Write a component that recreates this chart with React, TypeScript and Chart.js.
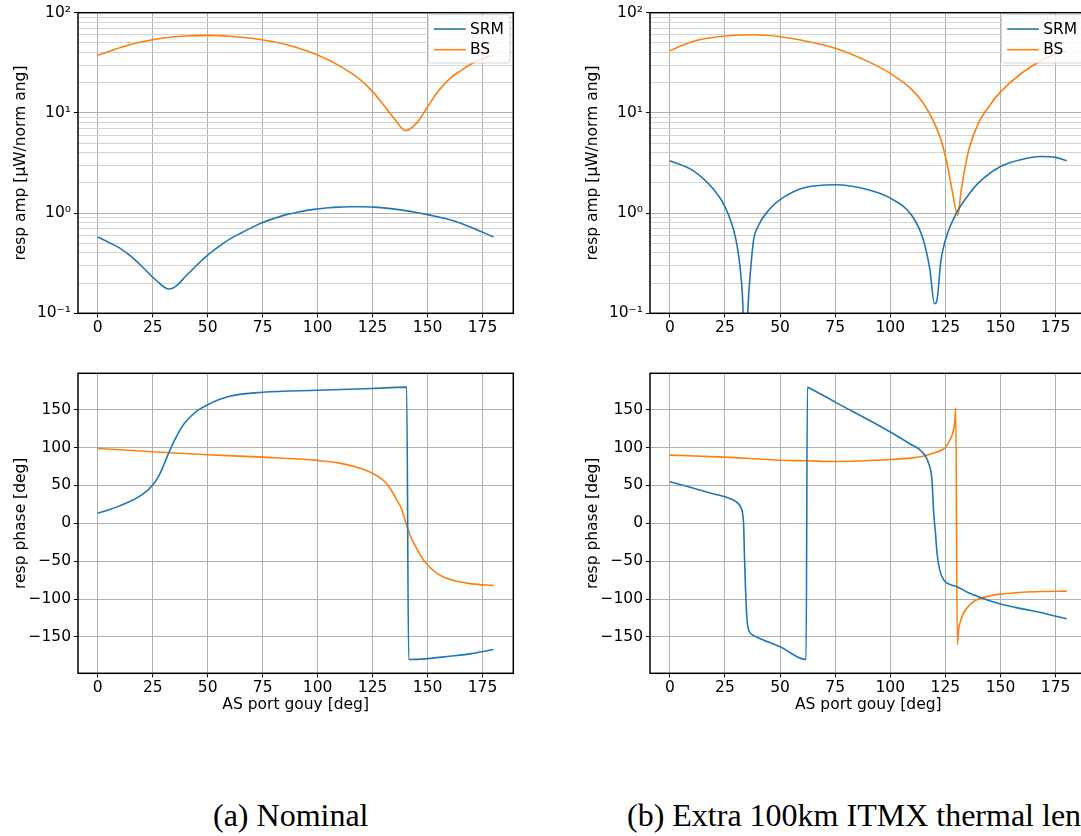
import React, { useEffect, useRef } from 'react';
import { Chart, registerables } from 'chart.js';

Chart.register(...registerables);

// ---------- tick labels / texts ----------
const gouyTicks = [0, 25, 50, 75, 100, 125, 150, 175];
const ampTicks = [
  0.1, 0.2, 0.3, 0.4, 0.5, 0.6, 0.7, 0.8, 0.9,
  1, 2, 3, 4, 5, 6, 7, 8, 9,
  10, 20, 30, 40, 50, 60, 70, 80, 90, 100,
];
const ampTickLabels: Record<string, string> = { '0.1': '10⁻¹', '1': '10⁰', '10': '10¹', '100': '10²' };
const phaseTicks = [-150, -100, -50, 0, 50, 100, 150];
const seriesNames = ['SRM', 'BS'];
const captions = ['(a) Nominal', '(b) Extra 100km ITMX thermal lens'];
const ampTitle = 'resp amp [μW/norm ang]';
const phaseTitle = 'resp phase [deg]';
const gouyTitle = 'AS port gouy [deg]';

// ---------- (a) Nominal : amplitude ----------
const nomAmpSrmX = [0, 5, 10, 15, 20, 25, 28, 30, 32, 34, 36, 40, 45, 50, 55, 60, 65, 70, 75, 80, 85, 90, 95, 100, 105, 110, 115, 120, 125, 130, 135, 140, 145, 150, 155, 160, 165, 170, 175, 180];
const nomAmpSrmY = [0.577, 0.51, 0.447, 0.372, 0.295, 0.229, 0.2, 0.184, 0.175, 0.178, 0.19, 0.234, 0.302, 0.38, 0.462, 0.55, 0.63, 0.716, 0.804, 0.881, 0.955, 1.01, 1.064, 1.1, 1.13, 1.148, 1.159, 1.159, 1.148, 1.127, 1.096, 1.059, 1.014, 0.966, 0.912, 0.859, 0.794, 0.72, 0.646, 0.577];
const nomAmpBsX = [0, 10, 20, 30, 40, 50, 60, 70, 80, 90, 100, 110, 120, 125, 130, 135, 140, 145, 150, 155, 160, 165, 170, 175, 180];
const nomAmpBsY = [37.6, 44.8, 51.3, 56, 58.6, 59.4, 58.2, 55.6, 51.3, 45.2, 37.8, 29.5, 20.9, 16.3, 12.0, 8.7, 6.67, 7.9, 11.5, 16.6, 21.9, 26.3, 30.9, 34.7, 37.6];

// ---------- (a) Nominal : phase ----------
const nomPhSrmX = [0, 10, 20, 25, 28, 30, 32, 35, 38, 40, 45, 50, 60, 75, 100, 125, 140.5, 141.4, 150, 160, 170, 180];
const nomPhSrmY = [13.2, 23, 37.5, 50.7, 64, 77, 91, 110, 126, 134, 148, 156.6, 167.6, 173, 175.6, 178, 179.8, -179.8, -178.6, -175.5, -172, -166.7];
const nomPhBsX = [0, 25, 50, 75, 100, 110, 120, 125, 130, 133, 136, 138, 140, 142, 145, 148, 150, 155, 160, 170, 180];
const nomPhBsY = [98.8, 94.4, 90.4, 87.3, 83, 79.4, 72, 66, 56.5, 46, 31, 20, 2, -15.4, -33, -47.6, -55, -67.5, -74, -80, -82];

// ---------- (b) Extra thermal lens : amplitude ----------
const extAmpSrmX = [0, 10, 20, 25, 30, 32, 33, 34.3, 35.5, 36.5, 38, 40, 45, 50, 60, 75, 90, 100, 110, 115, 118, 120, 121, 123, 125, 130, 135, 140, 150, 160, 168, 175, 180];
const extAmpSrmY = [3.33, 2.7, 1.71, 1.16, 0.54, 0.27, 0.14, 0.02, 0.12, 0.25, 0.54, 0.74, 1.08, 1.36, 1.77, 1.92, 1.71, 1.41, 0.93, 0.54, 0.27, 0.125, 0.13, 0.34, 0.54, 1.0, 1.47, 2.0, 2.92, 3.45, 3.67, 3.6, 3.33];
const extAmpBsX = [0, 10, 25, 38, 50, 60, 75, 90, 100, 110, 115, 120, 123, 126, 128, 130.6, 132, 134, 136, 140, 145, 150, 160, 170, 180];
const extAmpBsY = [41.8, 51.4, 58.5, 60.3, 57.6, 53, 44.2, 32.5, 24.8, 16.9, 12.5, 7.9, 5.4, 2.92, 1.71, 0.95, 1.58, 2.92, 4.6, 7.9, 11.8, 16.2, 25.3, 34.5, 41.8];

// ---------- (b) Extra thermal lens : phase ----------
const extPhSrmX = [0, 10, 20, 25, 30, 32, 33, 33.5, 33.9, 34.4, 35, 36, 38, 40, 50, 61.8, 62.4, 63, 75, 100, 110, 113.6, 117.4, 118.9, 119.7, 120.5, 121.2, 122.4, 124.2, 127.3, 130, 135, 140, 150, 160, 170, 180];
const extPhSrmY = [54.8, 47, 38.6, 35, 28.5, 22, 13, -4, -48, -92, -127, -142.5, -148, -151, -163, -179.8, 179.8, 179, 160, 120.6, 103, 96.5, 79, 57, 13, -13, -39.5, -61.4, -74.6, -81, -83.3, -91, -97, -106.6, -113, -119, -126];
const extPhBsX = [0, 25, 50, 62, 75, 100, 110, 115, 120, 125, 127, 128.5, 129.2, 129.7, 130.4, 131, 132, 133, 135, 137, 140, 145, 150, 160, 170, 180];
const extPhBsY = [90, 87.3, 83.3, 82.5, 81.6, 84.2, 86.4, 88.6, 93, 100, 109.6, 120.6, 133, 152.6, -160, -140, -128, -120, -111, -105, -100, -96, -93.5, -91, -90, -89.5];

// ---------- styling ----------
const BLUE = '#1f77b4';
const ORANGE = '#ff7f0e';
const FONT = 'DejaVu Sans';
const FS = 15.5;

const isPow10 = (v: number) => Math.abs(Math.log10(v) - Math.round(Math.log10(v))) < 1e-9;

type PanelSpec = {
  kind: 'amp' | 'phase';
  srmX: number[]; srmY: number[]; bsX: number[]; bsY: number[];
  padTop: number; padRight: number; yWidth: number; xHeight: number;
  xTitle: boolean; legend: boolean;
};

function toPts(xs: number[], ys: number[]) {
  return xs.map((x, i) => ({ x, y: ys[i] }));
}

function makeConfig(p: PanelSpec): any {
  const framePlugin = {
    id: 'frameAndLegend',
    afterDatasetsDraw(chart: any) {
      const { ctx, chartArea: a } = chart;
      ctx.save();
      ctx.strokeStyle = '#000';
      ctx.lineWidth = 1.5;
      ctx.strokeRect(a.left, a.top, a.right - a.left, a.bottom - a.top);
      if (p.legend) {
        const bx = a.right - 85, by = a.top + 2, bw = 81.7, bh = 48.3, r = 3;
        ctx.beginPath();
        ctx.moveTo(bx + r, by);
        ctx.lineTo(bx + bw - r, by);
        ctx.quadraticCurveTo(bx + bw, by, bx + bw, by + r);
        ctx.lineTo(bx + bw, by + bh - r);
        ctx.quadraticCurveTo(bx + bw, by + bh, bx + bw - r, by + bh);
        ctx.lineTo(bx + r, by + bh);
        ctx.quadraticCurveTo(bx, by + bh, bx, by + bh - r);
        ctx.lineTo(bx, by + r);
        ctx.quadraticCurveTo(bx, by, bx + r, by);
        ctx.closePath();
        ctx.fillStyle = 'rgba(255,255,255,0.8)';
        ctx.fill();
        ctx.strokeStyle = 'rgba(204,204,204,0.8)';
        ctx.lineWidth = 1;
        ctx.stroke();
        const rows = [a.top + 16.3, a.top + 37];
        const cols = [BLUE, ORANGE];
        rows.forEach((y, i) => {
          ctx.beginPath();
          ctx.strokeStyle = cols[i];
          ctx.lineWidth = 1.6;
          ctx.moveTo(a.right - 79.3, y);
          ctx.lineTo(a.right - 47.6, y);
          ctx.stroke();
          ctx.fillStyle = '#000';
          ctx.font = `${FS}px "${FONT}"`;
          ctx.textBaseline = 'middle';
          ctx.textAlign = 'left';
          ctx.fillText(seriesNames[i], a.right - 43.3, y + 0.5);
        });
      }
      ctx.restore();
    },
  };

  const tickFont = { family: FONT, size: FS };

  const yScale: any = p.kind === 'amp'
    ? {
        type: 'logarithmic',
        min: 0.1,
        max: 100,
        afterBuildTicks: (s: any) => { s.ticks = ampTicks.map((v) => ({ value: v, major: isPow10(v) })); },
        ticks: {
          autoSkip: false,
          font: tickFont,
          color: '#000',
          padding: 3,
          callback: (v: any) => ampTickLabels[String(Number(v))] ?? '',
        },
        grid: {
          color: (c: any) => (c.tick && isPow10(c.tick.value) ? '#b0b0b0' : '#d4d4d4'),
          tickColor: (c: any) => (c.tick && isPow10(c.tick.value) ? '#000' : 'rgba(0,0,0,0)'),
          lineWidth: 1,
          tickLength: 4,
        },
        border: { display: false },
        title: { display: true, text: ampTitle, font: tickFont, color: '#000', padding: { top: 11.2, bottom: 0 } },
        afterFit: (s: any) => { s.width = p.yWidth; },
      }
    : {
        type: 'linear',
        min: -198,
        max: 198,
        afterBuildTicks: (s: any) => { s.ticks = phaseTicks.map((v) => ({ value: v })); },
        ticks: {
          autoSkip: false,
          font: tickFont,
          color: '#000',
          padding: 3,
          callback: (v: any) => String(v).replace('-', '−'),
        },
        grid: { color: '#b0b0b0', tickColor: '#000', lineWidth: 1, tickLength: 4 },
        border: { display: false },
        title: { display: true, text: phaseTitle, font: tickFont, color: '#000', padding: { top: 11.2, bottom: 0 } },
        afterFit: (s: any) => { s.width = p.yWidth; },
      };

  return {
    type: 'line',
    data: {
      datasets: [
        { label: seriesNames[0], data: toPts(p.srmX, p.srmY), borderColor: BLUE, borderWidth: 1.6, pointRadius: 0, cubicInterpolationMode: 'monotone', fill: false },
        { label: seriesNames[1], data: toPts(p.bsX, p.bsY), borderColor: ORANGE, borderWidth: 1.6, pointRadius: 0, cubicInterpolationMode: 'monotone', fill: false },
      ],
    },
    options: {
      responsive: false,
      animation: false,
      events: [],
      layout: { padding: { top: p.padTop, right: p.padRight, left: 0, bottom: 0 } },
      plugins: { legend: { display: false }, tooltip: { enabled: false } },
      scales: {
        x: {
          type: 'linear',
          min: -9,
          max: 189,
          afterBuildTicks: (s: any) => { s.ticks = gouyTicks.map((v) => ({ value: v })); },
          ticks: { autoSkip: false, font: tickFont, color: '#000', padding: 1.5, maxRotation: 0 },
          grid: { color: '#b0b0b0', tickColor: '#000', lineWidth: 1, tickLength: 4 },
          border: { display: false },
          title: { display: p.xTitle, text: gouyTitle, font: tickFont, color: '#000', padding: { top: 0, bottom: 5.7 } },
          afterFit: (s: any) => { s.height = p.xHeight; },
        },
        y: yScale,
      },
    },
    plugins: [framePlugin],
  };
}

function Panel({ left, top, width, height, spec }: { left: number; top: number; width: number; height: number; spec: PanelSpec }) {
  const ref = useRef<HTMLCanvasElement>(null);
  useEffect(() => {
    const chart = new Chart(ref.current as HTMLCanvasElement, makeConfig(spec));
    return () => chart.destroy();
  }, []);
  return (
    <div style={{ position: 'absolute', left, top, width, height }}>
      <canvas ref={ref} width={width} height={height} style={{ width, height, display: 'block' }} />
    </div>
  );
}

export default function App() {
  const capStyle: React.CSSProperties = { position: 'absolute', top: 799, font: '32px "Liberation Serif"', lineHeight: '32px', whiteSpace: 'nowrap', color: '#000' };
  return (
    <div style={{ position: 'absolute', left: 0, top: 0, width: 1081, height: 836, overflow: 'hidden', background: '#fff' }}>
      <Panel left={0} top={0} width={540} height={340}
        spec={{ kind: 'amp', srmX: nomAmpSrmX, srmY: nomAmpSrmY, bsX: nomAmpBsX, bsY: nomAmpBsY, padTop: 12.7, padRight: 26.7, yWidth: 78, xHeight: 26.7, xTitle: false, legend: true }} />
      <Panel left={0} top={360} width={540} height={360}
        spec={{ kind: 'phase', srmX: nomPhSrmX, srmY: nomPhSrmY, bsX: nomPhBsX, bsY: nomPhBsY, padTop: 13.3, padRight: 26.7, yWidth: 78, xHeight: 46.7, xTitle: true, legend: false }} />
      <Panel left={572} top={0} width={540} height={340}
        spec={{ kind: 'amp', srmX: extAmpSrmX, srmY: extAmpSrmY, bsX: extAmpBsX, bsY: extAmpBsY, padTop: 12.7, padRight: 25.5, yWidth: 78, xHeight: 26.7, xTitle: false, legend: true }} />
      <Panel left={572} top={360} width={540} height={360}
        spec={{ kind: 'phase', srmX: extPhSrmX, srmY: extPhSrmY, bsX: extPhBsX, bsY: extPhBsY, padTop: 13.3, padRight: 25.5, yWidth: 78, xHeight: 46.7, xTitle: true, legend: false }} />
      <div style={{ ...capStyle, left: 213 }}>{captions[0]}</div>
      <div style={{ ...capStyle, left: 627 }}>{captions[1]}</div>
    </div>
  );
}
